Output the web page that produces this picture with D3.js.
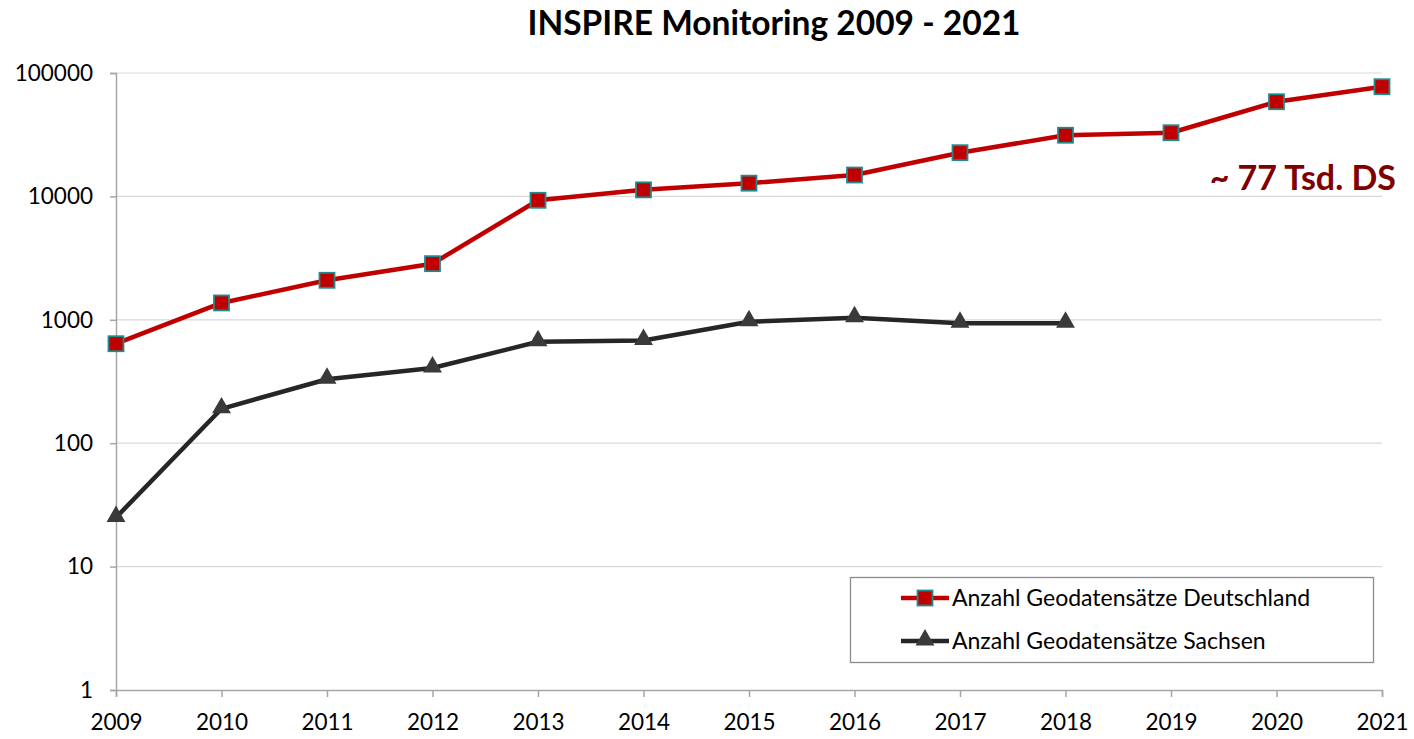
<!DOCTYPE html>
<html>
<head>
<meta charset="utf-8">
<script src="https://cdn.jsdelivr.net/npm/d3@7"></script>
<style>
  html, body { margin: 0; padding: 0; background: #fff; }
  svg { display: block; font-family: Lato, "Open Sans", sans-serif; }
</style>
</head>
<body>
<svg id="chart" width="1414" height="739"></svg>
<script>
const title = "INSPIRE Monitoring 2009 - 2021";
const years = [2009, 2010, 2011, 2012, 2013, 2014, 2015, 2016, 2017, 2018, 2019, 2020, 2021];
const deutschland = [640, 1370, 2090, 2850, 9300, 11300, 12800, 14900, 22600, 31300, 32800, 58500, 77400];
const sachsenYears = [2009, 2010, 2011, 2012, 2013, 2014, 2015, 2016, 2017, 2018];
const sachsen = [25, 190, 330, 407, 664, 680, 965, 1040, 937, 937];
const yTicks = [1, 10, 100, 1000, 10000, 100000];
const seriesNames = ["Anzahl Geodatensätze Deutschland", "Anzahl Geodatensätze Sachsen"];
const annotation = "~ 77 Tsd. DS";

const svg = d3.select("#chart");
const x = d3.scaleLinear().domain([2009, 2021]).range([116, 1382]);
const y = d3.scaleLog().domain([1, 100000]).range([690, 73]);

const red = "#C00000", teal = "#1F8C8C", dark = "#262626", triFill = "#3A3A3A";

// title
svg.append("text").attr("x", 774).attr("y", 35).attr("text-anchor", "middle")
  .attr("font-size", 33.5).attr("font-weight", "bold").attr("fill", "#000").text(title);

// gridlines
svg.append("g").selectAll("line").data(yTicks.slice(1)).join("line")
  .attr("x1", x(2009)).attr("x2", x(2021)).attr("y1", d => y(d)).attr("y2", d => y(d))
  .attr("stroke", "#D9D9D9").attr("stroke-width", 1.2);

// y axis
const yAxis = svg.append("g").attr("transform", `translate(${x(2009)},0)`)
  .call(d3.axisLeft(y).tickValues(yTicks).tickFormat(d3.format("d")).tickSize(6).tickPadding(17));
yAxis.select(".domain").attr("stroke", "#A6A6A6").attr("stroke-width", 1.5);
yAxis.selectAll(".tick line").attr("stroke", "#A6A6A6").attr("stroke-width", 1.5);
yAxis.selectAll(".tick text").attr("font-size", 22.5).attr("fill", "#000").attr("font-family", "Lato, sans-serif");

// x axis
const xAxis = svg.append("g").attr("transform", `translate(0,${y(1)})`)
  .call(d3.axisBottom(x).tickValues(years).tickFormat(d3.format("d")).tickSize(7).tickPadding(17));
xAxis.select(".domain").attr("stroke", "#A6A6A6").attr("stroke-width", 1.5);
xAxis.selectAll(".tick line").attr("stroke", "#A6A6A6").attr("stroke-width", 1.5);
xAxis.selectAll(".tick text").attr("font-size", 22.5).attr("fill", "#000").attr("font-family", "Lato, sans-serif");

const line = d3.line().x(d => x(d[0])).y(d => y(d[1]));
const dData = years.map((yr, i) => [yr, deutschland[i]]);
const sData = sachsenYears.map((yr, i) => [yr, sachsen[i]]);

svg.append("path").datum(sData).attr("d", line).attr("fill", "none")
  .attr("stroke", dark).attr("stroke-width", 4.5).attr("stroke-linejoin", "round");
const tri = d3.symbol().type(d3.symbolTriangle).size(155);
svg.append("g").selectAll("path").data(sData).join("path")
  .attr("d", tri).attr("transform", d => `translate(${x(d[0])},${y(d[1]) - 1})`)
  .attr("fill", triFill);

svg.append("path").datum(dData).attr("d", line).attr("fill", "none")
  .attr("stroke", red).attr("stroke-width", 4.5).attr("stroke-linejoin", "round");
svg.append("g").selectAll("rect").data(dData).join("rect")
  .attr("x", d => x(d[0]) - 7.5).attr("y", d => y(d[1]) - 7.5)
  .attr("width", 15).attr("height", 15)
  .attr("fill", red).attr("stroke", teal).attr("stroke-width", 1.8);

// annotation
svg.append("text").attr("x", 1396).attr("y", 190).attr("text-anchor", "end")
  .attr("font-size", 34).attr("font-weight", "bold").attr("fill", "#7F0000").text(annotation);

// legend
const lg = svg.append("g");
lg.append("rect").attr("x", 850.5).attr("y", 577.5).attr("width", 523).attr("height", 85)
  .attr("fill", "#fff").attr("stroke", "#8C8C8C").attr("stroke-width", 1.3);
const rows = [598, 641];
// row 1
lg.append("line").attr("x1", 901).attr("x2", 949).attr("y1", rows[0]).attr("y2", rows[0])
  .attr("stroke", red).attr("stroke-width", 4.5);
lg.append("rect").attr("x", 925 - 7.5).attr("y", rows[0] - 7.5).attr("width", 15).attr("height", 15)
  .attr("fill", red).attr("stroke", teal).attr("stroke-width", 1.8);
lg.append("text").attr("x", 952).attr("y", rows[0]).attr("dy", "0.35em")
  .attr("font-size", 23).attr("fill", "#000").text(seriesNames[0]);
// row 2
lg.append("line").attr("x1", 901).attr("x2", 949).attr("y1", rows[1]).attr("y2", rows[1])
  .attr("stroke", dark).attr("stroke-width", 4.5);
lg.append("path").attr("d", tri).attr("transform", `translate(925,${rows[1] - 1})`).attr("fill", triFill);
lg.append("text").attr("x", 952).attr("y", rows[1]).attr("dy", "0.35em")
  .attr("font-size", 23).attr("fill", "#000").text(seriesNames[1]);
</script>
</body>
</html>
